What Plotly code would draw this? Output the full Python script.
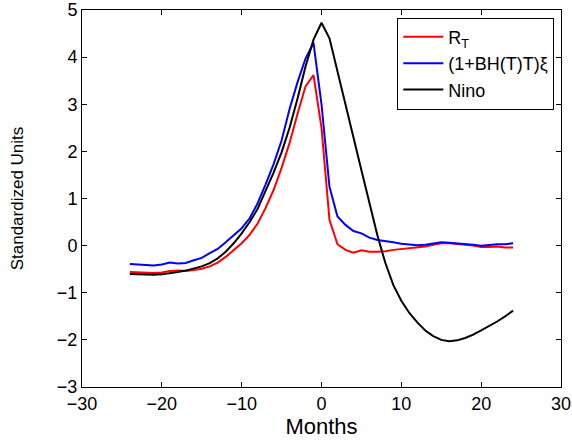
import plotly.graph_objects as go

months = list(range(-24, 25))

r_t = [-0.56, -0.57, -0.58, -0.58, -0.57, -0.54, -0.53, -0.54, -0.52, -0.49,
       -0.44, -0.36, -0.24, -0.10, 0.05, 0.23, 0.47, 0.80, 1.18, 1.65,
       2.18, 2.80, 3.38, 3.62, 2.50, 0.55, 0.03, -0.09, -0.15, -0.10,
       -0.13, -0.13, -0.12, -0.09, -0.07, -0.05, -0.03, -0.02, 0.02, 0.05,
       0.05, 0.04, 0.02, 0.00, -0.03, -0.03, -0.02, -0.04, -0.04]

bh_xi = [-0.39, -0.40, -0.42, -0.42, -0.40, -0.36, -0.38, -0.37, -0.31, -0.26,
         -0.16, -0.07, 0.07, 0.21, 0.37, 0.58, 0.90, 1.30, 1.73, 2.23,
         2.90, 3.47, 3.97, 4.30, 3.00, 1.25, 0.62, 0.44, 0.31, 0.26,
         0.17, 0.12, 0.10, 0.07, 0.04, 0.03, 0.01, 0.02, 0.04, 0.07,
         0.06, 0.05, 0.04, 0.02, 0.00, 0.02, 0.03, 0.03, 0.05]

nino = [-0.60, -0.61, -0.62, -0.62, -0.61, -0.59, -0.56, -0.53, -0.49, -0.44,
        -0.37, -0.27, -0.13, 0.05, 0.26, 0.50, 0.78, 1.17, 1.55, 1.98,
        2.50, 3.12, 3.80, 4.37, 4.73, 4.40, 3.72, 3.00, 2.30, 1.60,
        0.90, 0.22, -0.37, -0.84, -1.17, -1.43, -1.63, -1.80, -1.92, -2.00,
        -2.03, -2.01, -1.96, -1.89, -1.80, -1.71, -1.61, -1.50, -1.38]

series_names = ["R<sub>T</sub>", "(1+BH(T)T)ξ", "Nino"]
series_colors = ["#ff0000", "#0000ff", "#000000"]
x_ticks = [-30, -20, -10, 0, 10, 20, 30]
y_ticks = [-3, -2, -1, 0, 1, 2, 3, 4, 5]

font_family = "Liberation Sans, Arial, sans-serif"

fig = go.Figure()
for name, ys, col in zip(series_names, [r_t, bh_xi, nino], series_colors):
    fig.add_trace(go.Scatter(x=months, y=ys, mode="lines", name=name,
                             line=dict(color=col, width=2)))

axis_common = dict(showline=True, linecolor="black", linewidth=1, mirror="ticks",
                   ticks="inside", ticklen=5, tickcolor="black", tickwidth=1,
                   showgrid=False, zeroline=False, ticklabeloverflow="allow",
                   automargin=False,
                   tickfont=dict(family=font_family, size=18, color="black"))

fig.update_layout(
    width=572, height=440,
    margin=dict(l=82, r=11, t=10, b=53),
    paper_bgcolor="white", plot_bgcolor="white",
    font=dict(family=font_family, color="black"),
    xaxis=dict(range=[-30, 30], tickmode="array", tickvals=x_ticks,
               title=dict(text="Months", font=dict(size=22, family=font_family), standoff=0),
               **axis_common),
    yaxis=dict(range=[-3, 5], tickmode="array", tickvals=y_ticks,
               title=dict(text="Standardized Units", font=dict(size=17, family=font_family), standoff=28),
               **axis_common),
    legend=dict(x=0.986, y=0.98, xanchor="right", yanchor="top",
                bgcolor="white", bordercolor="black", borderwidth=1,
                font=dict(family=font_family, size=18, color="black"),
                itemwidth=40, tracegroupgap=0),
    showlegend=True,
)

fig.write_html("out.html")
